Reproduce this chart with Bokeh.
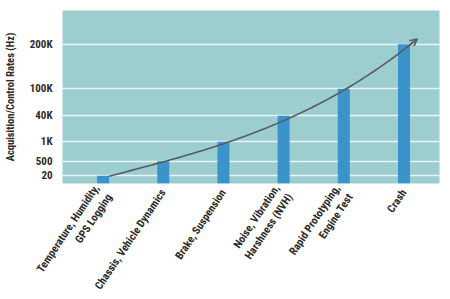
import numpy as np
from bokeh.plotting import figure
from bokeh.models import FixedTicker, Range1d, Arrow, OpenHead, ColumnDataSource
from bokeh.embed import file_html
from bokeh.resources import INLINE

# ---- data ----
categories = [
    "Temperature, Humidity,\nGPS Logging",
    "Chassis, Vehicle Dynamics",
    "Brake, Suspension",
    "Noise, Vibration,\nHarshness (NVH)",
    "Rapid Prototyping,\nEngine Test",
    "Crash",
]
rates = [20, 500, 1000, 40000, 100000, 200000]          # Hz, one per category
tick_values = [20, 500, 1000, 40000, 100000, 200000]
tick_labels = ["20", "500", "1K", "40K", "100K", "200K"]
# the reference axis is irregular: display position of each tick value
tick_levels = [7.7, 22.3, 41.7, 67.7, 94.7, 139.3]

level_of = dict(zip(tick_values, tick_levels))
xs = list(range(len(categories)))
tops = [level_of[r] for r in rates]

FONT = "'Roboto Condensed', 'DejaVu Sans Condensed', Roboto"
TXT = "#2b2b2b"

p = figure(width=450, height=299, output_backend="svg", toolbar_location=None,
           x_range=Range1d(-0.674, 5.59), y_range=Range1d(0, 173),
           min_border_left=55, min_border_right=11, min_border_top=10,
           min_border_bottom=116)
p.background_fill_color = "#9ccdcf"
p.border_fill_color = "white"
p.outline_line_color = None

src = ColumnDataSource(dict(x=xs, top=tops))
p.vbar(x="x", top="top", bottom=0, width=0.2, source=src,
       fill_color="#3a94cb", line_color=None)

# trend curve through bar tops
fx = np.array(xs) + 0.1
coef = np.polyfit(fx, np.array(tops), 3)
cx = np.linspace(0.1, 5.22, 80)
cy = np.polyval(coef, cx)
p.line(cx[:-1], cy[:-1], line_color="#555b61", line_width=1.6)
p.add_layout(Arrow(end=OpenHead(size=7, line_color="#555b61", line_width=1.6),
                   x_start=cx[-3], y_start=cy[-3], x_end=cx[-1], y_end=cy[-1],
                   line_color="#555b61", line_width=1.6))

# y axis
p.yaxis.ticker = FixedTicker(ticks=tick_levels)
p.yaxis.major_label_overrides = {lv: lb for lv, lb in zip(tick_levels, tick_labels)}
p.yaxis.axis_label = "Acquisition/Control Rates (Hz)"
p.yaxis.axis_label_text_font = FONT
p.yaxis.axis_label_text_font_style = "bold"
p.yaxis.axis_label_text_font_size = "10.5px"
p.yaxis.axis_label_text_color = TXT
p.yaxis.axis_label_standoff = 10
p.yaxis.major_label_text_font = FONT
p.yaxis.major_label_text_font_style = "bold"
p.yaxis.major_label_text_font_size = "11px"
p.yaxis.major_label_text_color = TXT
p.yaxis.major_label_standoff = 4
p.yaxis.axis_line_color = None
p.yaxis.major_tick_line_color = None
p.yaxis.minor_tick_line_color = None

p.ygrid.ticker = FixedTicker(ticks=tick_levels)
p.ygrid.grid_line_color = "#e6f6fa"
p.ygrid.grid_line_width = 1.6
p.xgrid.grid_line_color = None

# x axis
p.xaxis.ticker = FixedTicker(ticks=xs)
p.xaxis.major_label_overrides = {x: c for x, c in zip(xs, categories)}
p.xaxis.major_label_orientation = 0.98
p.xaxis.major_label_text_font = FONT
p.xaxis.major_label_text_font_style = "bold"
p.xaxis.major_label_text_font_size = "11px"
p.xaxis.major_label_text_color = TXT
p.xaxis.major_label_standoff = 7
p.xaxis.major_tick_out = 0
p.xaxis.major_tick_in = 0
p.xaxis.axis_line_color = None
p.xaxis.major_tick_line_color = None
p.xaxis.minor_tick_line_color = None

open("out.html", "w").write(file_html(p, INLINE))
